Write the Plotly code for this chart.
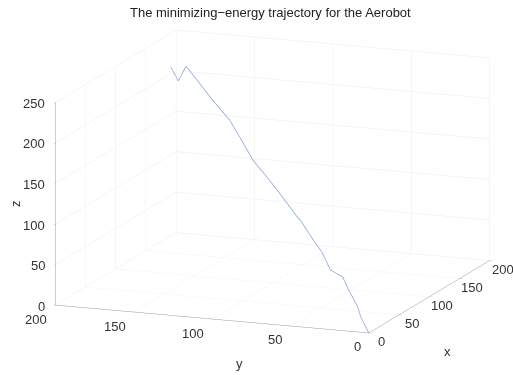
import plotly.graph_objects as go
import numpy as np

# trajectory samples (x, y, z)
traj_x = [0, 8.4, 11.5, 20.9, 27.2, 39.8, 48.2, 57.6, 71.2, 74.3, 89, 105.8,
          120.4, 134, 144.5, 162.3, 175.9, 190.4, 190.5, 191]
traj_y = [0, 8.4, 11.5, 20.9, 27.2, 39.8, 48.2, 57.6, 71.2, 74.3, 89, 105.8,
          120.4, 134, 144.5, 162.3, 175.9, 190, 195, 200]
traj_z = [0, 14.6, 25, 40.1, 52.3, 53.1, 68.9, 79.1, 95.3, 97.1, 111.5, 127,
          138.9, 158.8, 173.3, 186.9, 199.5, 211.5, 192.4, 208.7]

xy_ticks = [0, 50, 100, 150, 200]
z_ticks = [0, 50, 100, 150, 200, 250]
x_range = [0, 200]
y_range = [0, 200]
z_range = [0, 250]

fig = go.Figure(go.Scatter3d(
    x=traj_x, y=traj_y, z=traj_z, mode="lines",
    line=dict(color="#8ea3da", width=1.5), showlegend=False, hoverinfo="skip"))

d = np.array([-0.908, -0.350, 0.231])
k = 2.0
eye = d * k
s = 2.08

FONT = "Liberation Sans, Arial"
tfont = dict(family=FONT, size=13, color="#333")

axis_common = dict(showbackground=False, gridcolor="#ececec", gridwidth=1,
                   showline=True, linecolor="#9a9a9a", linewidth=1,
                   zeroline=False, ticks="outside", tickcolor="#9a9a9a",
                   ticklen=3, showticklabels=False, title=dict(text=""),
                   showspikes=False)

ann = []
# tick labels placed at the 3D tick positions
for v in xy_ticks:
    ann.append(dict(x=v, y=y_range[0], z=z_range[0], text=str(v), showarrow=False,
                    xanchor="center", yanchor="middle", xshift=13, yshift=-8.5, font=tfont))
    ann.append(dict(x=x_range[0], y=v, z=z_range[0], text=str(v), showarrow=False,
                    xanchor="right", yanchor="middle", xshift=-6, yshift=-14, font=tfont))
for v in z_ticks:
    ann.append(dict(x=x_range[0], y=y_range[1], z=v, text=str(v), showarrow=False,
                    xanchor="right", yanchor="middle", xshift=-8, yshift=-1, font=tfont))
# axis titles
ann.append(dict(x=100, y=y_range[0], z=z_range[0], text="x", showarrow=False,
                xanchor="center", yanchor="middle", xshift=18, yshift=-55, font=tfont))
ann.append(dict(x=x_range[0], y=100, z=z_range[0], text="y", showarrow=False,
                xanchor="center", yanchor="middle", xshift=27, yshift=-44, font=tfont))
ann.append(dict(x=x_range[0], y=y_range[1], z=125, text="z", showarrow=False, textangle=-90,
                xanchor="center", yanchor="middle", xshift=-40, yshift=0, font=tfont))

fig.update_layout(
    width=513, height=375,
    paper_bgcolor="white",
    margin=dict(l=32, r=0, t=20, b=32),
    title=dict(text="The minimizing−energy trajectory for the Aerobot",
               x=0.527, xanchor="center", y=0.967, yanchor="middle", yref="container",
               font=dict(family=FONT, size=13, color="#222")),
    scene=dict(
        xaxis=dict(range=x_range, tickvals=xy_ticks, **axis_common),
        yaxis=dict(range=y_range, tickvals=xy_ticks, **axis_common),
        zaxis=dict(range=z_range, tickvals=z_ticks, **axis_common),
        aspectmode="manual", aspectratio=dict(x=s, y=s, z=0.62 * s),
        camera=dict(eye=dict(x=eye[0], y=eye[1], z=eye[2]), up=dict(x=0, y=0, z=1),
                    center=dict(x=0, y=0, z=0), projection=dict(type="orthographic")),
        bgcolor="white",
        annotations=ann,
    ),
)

fig.write_html("out.html")
